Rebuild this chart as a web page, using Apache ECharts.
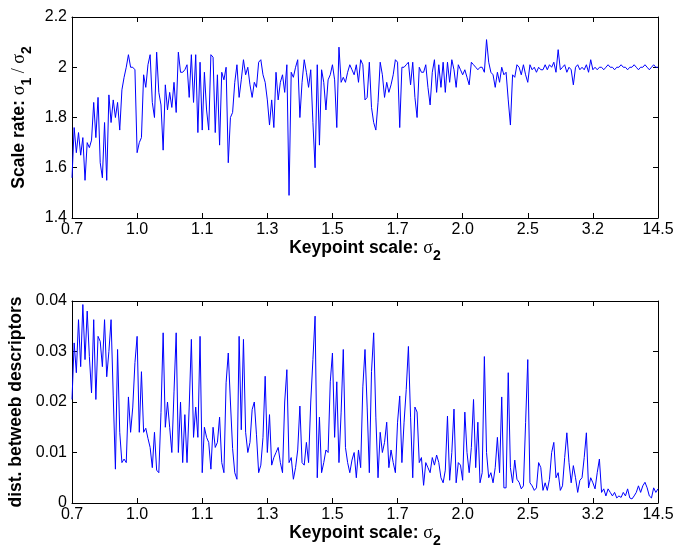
<!DOCTYPE html>
<html><head><meta charset="utf-8">
<script src="https://cdn.jsdelivr.net/npm/echarts@6/dist/echarts.min.js"></script>
<style>html,body{margin:0;padding:0;background:#fff}#c{width:678px;height:554px}</style>
</head><body><div id="c"></div>
<script>
const tickLabels = ['0.7','1.0','1.1','1.3','1.5','1.7','2.0','2.5','3.2','14.5'];

const ratio = [
1.56,1.76,1.66,1.74,1.65,1.72,1.55,1.70,1.68,1.71,1.86,1.72,1.88,1.62,1.56,1.78,1.55,1.89,1.78,1.87,1.80,1.86,1.75,1.91,1.96,2.00,2.05,2.00,2.00,1.99,1.66,
1.70,1.72,1.97,1.92,2.01,2.05,1.86,1.80,2.06,1.90,1.85,1.67,1.93,1.83,1.90,1.84,1.94,1.82,2.06,1.98,1.98,1.99,2.01,1.88,2.05,1.86,2.05,1.74,2.02,1.75,
1.98,1.83,1.75,2.05,2.04,1.74,1.97,1.69,1.98,1.95,2.00,1.62,1.80,1.82,1.94,2.01,1.88,1.95,2.03,1.97,2.00,1.93,1.88,1.94,1.92,2.02,2.03,1.97,1.94,1.87,
1.77,1.87,1.76,1.98,1.87,1.94,1.97,1.90,2.01,1.49,1.98,1.96,2.00,2.03,1.80,1.94,2.03,1.98,1.92,1.99,1.78,1.60,2.01,1.69,1.99,1.94,1.83,1.95,1.97,2.01,
1.95,1.76,2.08,1.94,1.96,1.94,1.98,2.01,1.99,1.97,2.01,1.94,2.03,2.01,1.87,1.88,2.02,1.84,1.78,1.75,1.86,2.02,1.97,1.88,1.94,1.90,1.93,1.97,2.03,2.02,
1.76,2.00,2.00,2.01,2.02,1.93,2.02,1.88,1.80,2.00,1.98,1.98,2.01,1.92,1.85,1.98,2.03,1.90,2.01,1.92,2.02,1.90,2.02,1.94,2.03,1.99,1.92,2.01,1.99,1.97,
1.99,1.96,1.93,2.02,2.01,2.00,1.99,2.00,2.00,1.98,2.11,2.02,1.98,1.97,1.92,1.98,1.94,2.00,1.97,1.98,1.87,1.77,1.97,1.96,2.01,2.00,1.97,2.01,1.97,1.94,
2.01,1.99,2.00,1.98,2.00,1.99,1.99,2.01,1.99,2.01,2.00,2.02,1.98,2.07,1.99,2.00,2.01,1.98,2.00,1.99,1.93,2.00,2.01,1.99,2.00,1.99,2.01,1.98,2.03,1.99,
2.00,1.99,2.00,2.00,1.99,2.00,2.01,2.00,2.00,1.99,2.00,2.00,2.01,2.00,2.00,1.99,2.00,2.00,2.01,2.00,1.99,2.00,2.00,2.01,2.00,1.99,2.00,2.01,2.00,2.00
];

const dist = [
0.0205,0.0317,0.0258,0.0363,0.0270,0.0393,0.0284,0.0380,0.0290,0.0218,0.0363,0.0205,0.0330,0.0320,0.0270,0.0363,0.0250,0.0300,0.0363,0.0212,0.0067,0.0304,0.0140,0.0080,0.0087,0.0080,0.0210,0.0140,0.0190,0.0278,0.0330,
0.0140,0.0260,0.0140,0.0148,0.0128,0.0110,0.0070,0.0140,0.0065,0.0060,0.0179,0.0337,0.0150,0.0200,0.0150,0.0100,0.0220,0.0337,0.0100,0.0200,0.0080,0.0175,0.0080,0.0190,0.0324,0.0130,0.0190,0.0130,0.0330,0.0060,
0.0150,0.0130,0.0120,0.0067,0.0150,0.0110,0.0120,0.0170,0.0080,0.0060,0.0238,0.0297,0.0200,0.0108,0.0060,0.0047,0.0330,0.0145,0.0324,0.0140,0.0100,0.0120,0.0185,0.0200,0.0135,0.0060,0.0075,0.0130,0.0251,0.0100,
0.0175,0.0075,0.0090,0.0100,0.0110,0.0080,0.0060,0.0200,0.0264,0.0080,0.0090,0.0047,0.0070,0.0105,0.0192,0.0080,0.0075,0.0120,0.0080,0.0200,0.0284,0.0370,0.0050,0.0170,0.0060,0.0080,0.0105,0.0100,0.0240,0.0297,
0.0130,0.0240,0.0080,0.0180,0.0304,0.0110,0.0080,0.0060,0.0085,0.0100,0.0050,0.0105,0.0070,0.0230,0.0304,0.0190,0.0060,0.0260,0.0337,0.0170,0.0050,0.0140,0.0100,0.0120,0.0160,0.0070,0.0105,0.0080,0.0060,0.0160,
0.0212,0.0080,0.0160,0.0225,0.0310,0.0170,0.0050,0.0190,0.0180,0.0080,0.0090,0.0035,0.0080,0.0070,0.0060,0.0090,0.0075,0.0095,0.0080,0.0050,0.0040,0.0065,0.0172,0.0045,0.0100,0.0186,0.0040,0.0080,0.0075,0.0045,
0.0180,0.0100,0.0060,0.0110,0.0205,0.0070,0.0160,0.0040,0.0060,0.0290,0.0100,0.0050,0.0060,0.0040,0.0070,0.0130,0.0060,0.0210,0.0030,0.0030,0.0258,0.0070,0.0040,0.0085,0.0047,0.0041,0.0028,0.0034,0.0159,0.0284,
0.0040,0.0034,0.0025,0.0030,0.0080,0.0070,0.0025,0.0040,0.0025,0.0047,0.0100,0.0120,0.0050,0.0060,0.0025,0.0034,0.0090,0.0139,0.0080,0.0040,0.0074,0.0050,0.0021,0.0045,0.0050,0.0090,0.0139,0.0030,0.0050,0.0040,
0.0028,0.0060,0.0087,0.0021,0.0028,0.0014,0.0028,0.0021,0.0014,0.0021,0.0010,0.0014,0.0011,0.0021,0.0014,0.0028,0.0010,0.0008,0.0014,0.0021,0.0034,0.0021,0.0034,0.0041,0.0030,0.0014,0.0010,0.0030,0.0021,0.0028
];

const FONT = 'Liberation Sans';
const N = ratio.length - 1;
const STEP = N / (tickLabels.length - 1);

const rich = {
  b: {fontSize: 17.5, fontWeight: 'bold', fontFamily: FONT, color: '#000'},
  g: {fontSize: 18, fontFamily: 'Liberation Serif', color: '#000'},
  s: {fontSize: 14, fontWeight: 'bold', fontFamily: FONT, color: '#000', padding: [16, 0, 0, 0]}
};

function xAx(grid, pos, name) {
  const o = {
    type: 'value', gridIndex: grid, position: pos, min: 0, max: N, interval: STEP,
    axisLine: {show: true, onZero: false, lineStyle: {color: '#000', width: 1}},
    axisTick: {show: true, inside: true, length: 5, lineStyle: {color: '#000'}},
    axisLabel: {show: pos === 'bottom', formatter: v => tickLabels[Math.round(v / STEP)],
      color: '#000', fontSize: 16, fontFamily: FONT, margin: 4, showMinLabel: true, showMaxLabel: true},
    splitLine: {show: false}
  };
  if (name) { o.name = name; o.nameLocation = 'middle'; o.nameGap = 14; o.nameTextStyle = {rich: rich}; }
  return o;
}
function yAx(grid, pos, min, max, interval, dec, name) {
  const o = {
    type: 'value', gridIndex: grid, position: pos, min: min, max: max, interval: interval,
    axisLine: {show: true, onZero: false, lineStyle: {color: '#000', width: 1}},
    axisTick: {show: true, inside: true, length: 5, lineStyle: {color: '#000'}},
    axisLabel: {show: pos === 'left', formatter: v => String(parseFloat(v.toFixed(dec))),
      color: '#000', fontSize: 16, fontFamily: FONT, margin: 5, showMinLabel: true, showMaxLabel: true},
    splitLine: {show: false}
  };
  if (name) { o.name = name; o.nameLocation = 'middle'; o.nameRotate = 90; o.nameGap = 38; o.nameTextStyle = {rich: rich}; }
  return o;
}

const xName = '{b|Keypoint scale: }{g|σ}{s|2}';
const chart = echarts.init(document.getElementById('c'), null, {renderer: 'canvas'});
chart.setOption({
  animation: false,
  backgroundColor: '#fff',
  grid: [
    {left: 72, top: 17, width: 586, height: 201, outerBoundsMode: 'none'},
    {left: 72, top: 301, width: 586, height: 202, outerBoundsMode: 'none'}
  ],
  xAxis: [xAx(0, 'bottom', xName), xAx(0, 'top'), xAx(1, 'bottom', xName), xAx(1, 'top')],
  yAxis: [
    yAx(0, 'left', 1.4, 2.2, 0.2, 2, '{b|Scale rate: }{g|σ}{s|1}{g| / σ}{s|2}'),
    yAx(0, 'right', 1.4, 2.2, 0.2, 2),
    yAx(1, 'left', 0, 0.04, 0.01, 3, '{b|dist. betweeb descriptors}'),
    yAx(1, 'right', 0, 0.04, 0.01, 3)
  ],
  series: [
    {type: 'line', xAxisIndex: 0, yAxisIndex: 0, showSymbol: false, silent: true,
     lineStyle: {color: '#0000ff', width: 1}, data: ratio.map((v, i) => [i, v])},
    {type: 'line', xAxisIndex: 2, yAxisIndex: 2, showSymbol: false, silent: true,
     lineStyle: {color: '#0000ff', width: 1}, data: dist.map((v, i) => [i, v])}
  ]
});
</script></body></html>
